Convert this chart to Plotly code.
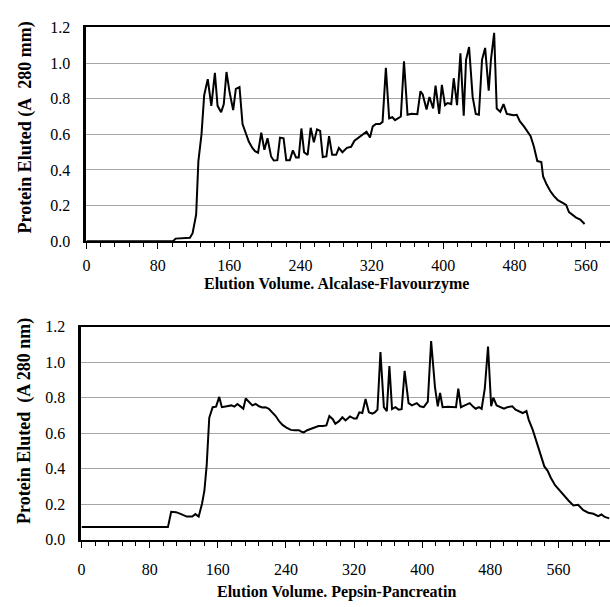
import plotly.graph_objects as go

# ---------- data: Alcalase-Flavourzyme (top) ----------
af_volume = [0, 97, 100, 108, 116, 119, 123, 125.5, 129, 132, 136, 140, 144, 147, 151, 154, 157, 160.5,
             164.5, 167.5, 171.6, 175, 178.5, 182, 186, 189, 192.4, 196, 199.5, 203, 207, 210, 214, 217,
             221, 224, 228, 231.4, 235, 238, 241, 244, 248, 251.4, 255, 258.5, 262, 265, 269, 272, 275.5,
             280, 283, 287, 292, 296.7, 300.5, 305, 309.4, 314, 317.9, 321, 324.6, 329, 332, 335.7, 339.4,
             343, 346, 349.6, 352.5, 356, 360, 364.5, 368, 371, 374.5, 377, 381.3, 384.6, 388.7, 391.4,
             395.5, 398.5, 402, 405, 409, 411.8, 415.5, 419.3, 423, 425.6, 429, 433, 436.5, 440, 443.5,
             447, 451, 453.5, 457.1, 460, 464, 467.6, 471.3, 475, 478.8, 482.5, 486, 490.5, 494, 498,
             501.7, 505.5, 510, 512, 516, 520, 524, 528.5, 533, 537.8, 541, 545, 549, 553.7, 558.5]
af_absorb = [0, 0, 0.015, 0.018, 0.02, 0.045, 0.15, 0.45, 0.6, 0.82, 0.91, 0.76, 0.945, 0.76, 0.724, 0.77,
             0.95, 0.836, 0.736, 0.855, 0.865, 0.658, 0.61, 0.56, 0.524, 0.506, 0.497, 0.61, 0.513, 0.578,
             0.476, 0.453, 0.455, 0.582, 0.578, 0.455, 0.455, 0.51, 0.47, 0.47, 0.633, 0.5, 0.485, 0.637,
             0.555, 0.628, 0.62, 0.473, 0.476, 0.59, 0.485, 0.485, 0.524, 0.5, 0.524, 0.53, 0.564, 0.582,
             0.6, 0.615, 0.582, 0.645, 0.658, 0.658, 0.67, 0.973, 0.69, 0.696, 0.68, 0.69, 0.7, 1.01, 0.71,
             0.715, 0.715, 0.713, 0.842, 0.824, 0.74, 0.81, 0.745, 0.873, 0.715, 0.878, 0.764, 0.776, 0.77,
             0.915, 0.764, 1.055, 0.705, 1.018, 1.09, 0.81, 0.715, 0.71, 1.018, 1.085, 0.845, 1.018, 1.17,
             0.745, 0.727, 0.77, 0.715, 0.71, 0.707, 0.71, 0.673, 0.645, 0.62, 0.59, 0.53, 0.45, 0.445,
             0.364, 0.318, 0.282, 0.255, 0.231, 0.218, 0.204, 0.164, 0.15, 0.133, 0.122, 0.097]

# ---------- data: Pepsin-Pancreatin (bottom) ----------
pp_volume = [0, 101.5, 105.3, 111, 117, 123.5, 130, 133.7, 137.6, 141.5, 144.3, 147, 150, 154, 158, 161.7,
             164.8, 169.5, 173, 176, 179.5, 183, 187, 190, 192.8, 196.7, 200.6, 204.5, 208.4, 212.3, 216,
             220, 224, 228, 232, 236, 240.6, 245.7, 250.3, 255.3, 258.4, 261, 265, 270, 274.7, 278.3,
             283.6, 287.5, 291, 295, 298, 302.4, 306.3, 310, 315.2, 319.9, 323, 326.2, 329.7, 333.5, 337.4,
             341.3, 344.4, 347.5, 351, 355, 358.5, 361.5, 364.6, 368.5, 372.4, 375.9, 379.4, 384, 388,
             393.6, 397.5, 401.8, 406.6, 410.5, 415, 418.3, 421, 424, 430, 435.8, 439.7, 442.4, 445.5, 450,
             455.8, 459.7, 462.8, 466.7, 469.8, 473.5, 477.3, 481, 483.5, 487.4, 492, 496, 500, 505.8,
             509.6, 514, 518, 522.4, 525, 529.8, 534, 538.8, 543.4, 547.3, 551, 556, 561.3, 566, 571.7,
             577.5, 583, 589.2, 595, 601, 606.6, 610.5, 614.3, 619.6]
pp_absorb = [0.071, 0.071, 0.157, 0.155, 0.144, 0.13, 0.13, 0.144, 0.13, 0.203, 0.276, 0.42, 0.687, 0.747,
             0.75, 0.805, 0.747, 0.75, 0.752, 0.757, 0.75, 0.765, 0.75, 0.738, 0.796, 0.778, 0.757, 0.765,
             0.752, 0.745, 0.747, 0.738, 0.72, 0.697, 0.668, 0.647, 0.632, 0.619, 0.617, 0.617, 0.608,
             0.605, 0.617, 0.626, 0.632, 0.641, 0.641, 0.644, 0.697, 0.679, 0.653, 0.668, 0.69, 0.672,
             0.695, 0.683, 0.683, 0.718, 0.714, 0.793, 0.718, 0.711, 0.718, 0.733, 1.058, 0.747, 0.725,
             0.979, 0.736, 0.747, 0.733, 0.736, 0.952, 0.77, 0.757, 0.77, 0.752, 0.747, 0.778, 1.12, 0.86,
             0.752, 0.827, 0.747, 0.75, 0.75, 0.747, 0.851, 0.747, 0.757, 0.77, 0.75, 0.738, 0.747, 0.738,
             0.851, 1.089, 0.752, 0.8, 0.757, 0.747, 0.738, 0.747, 0.752, 0.733, 0.725, 0.714, 0.725,
             0.677, 0.619, 0.559, 0.486, 0.413, 0.388, 0.349, 0.307, 0.276, 0.249, 0.221, 0.193, 0.197,
             0.166, 0.152, 0.146, 0.133, 0.142, 0.128, 0.12]

x_ticks = [0, 80, 160, 240, 320, 400, 480, 560]
y_ticks = [0.0, 0.2, 0.4, 0.6, 0.8, 1.0, 1.2]
top_xtitle = "Elution Volume. Alcalase-Flavourzyme"
bot_xtitle = "Elution Volume. Pepsin-Pancreatin"
top_ytitle = "Protein Eluted (A\u00a0\u00a0280 mm)"
bot_ytitle = "Protein Eluted\u00a0\u00a0(A 280 nm)"

W, H = 610, 607
FONT = "'Liberation Serif', 'Times New Roman', Times, serif"

fig = go.Figure()
fig.add_trace(go.Scatter(x=af_volume, y=af_absorb, mode="lines",
                         line=dict(color="black", width=2), xaxis="x", yaxis="y", showlegend=False))
fig.add_trace(go.Scatter(x=pp_volume, y=pp_absorb, mode="lines",
                         line=dict(color="black", width=2), xaxis="x2", yaxis="y2", showlegend=False))

def xax(domain, rng, anchor, standoff):
    return dict(domain=domain, range=rng, anchor=anchor, tickvals=x_ticks,
                ticktext=[str(v) for v in x_ticks], ticks="outside", ticklen=6, tickwidth=1,
                tickcolor="black", showline=True, linecolor="black", linewidth=2, mirror=True,
                showgrid=False, zeroline=False, ticklabelstandoff=standoff,
                minor=dict(dtick=16, tick0=0, ticks="outside", ticklen=4, tickcolor="black",
                           tickwidth=1, showgrid=False),
                tickfont=dict(family=FONT, size=16, color="black"))

def yax(domain, anchor):
    return dict(domain=domain, range=[0, 1.2], anchor=anchor, tickvals=y_ticks,
                ticktext=["%.1f" % v for v in y_ticks], ticks="", showline=True,
                linecolor="black", linewidth=3, showgrid=True, gridcolor="#a6a6a6", gridwidth=1,
                zeroline=False, ticklabelstandoff=10,
                tickfont=dict(family=FONT, size=16, color="black"))

def title(text, x, y, angle=0, size=16):
    return dict(text="<b>%s</b>" % text, x=x / W, y=1 - y / H, xref="paper", yref="paper",
                xanchor="center", yanchor="middle", showarrow=False, textangle=angle,
                font=dict(family=FONT, size=size, color="black"))

fig.update_layout(
    width=W, height=H, margin=dict(l=0, r=0, t=0, b=0),
    font=dict(family=FONT, color="black"),
    paper_bgcolor="white", plot_bgcolor="white",
    xaxis=xax([83 / W, 1], [0, 587], "y", 3),
    yaxis=yax([1 - 240 / H, 1 - 20 / H], "x"),
    xaxis2=xax([78 / W, 1], [0, 620.5], "y2", 8),
    yaxis2=yax([1 - 547 / H, 1 - 328 / H], "x2"),
    annotations=[
        title(top_xtitle, 335, 284),
        title(bot_xtitle, 335, 601),
        title(top_ytitle, 22, 123, -90, 18),
        title(bot_ytitle, 20, 425, -90, 18),
    ],
)

fig.write_html("out.html")
